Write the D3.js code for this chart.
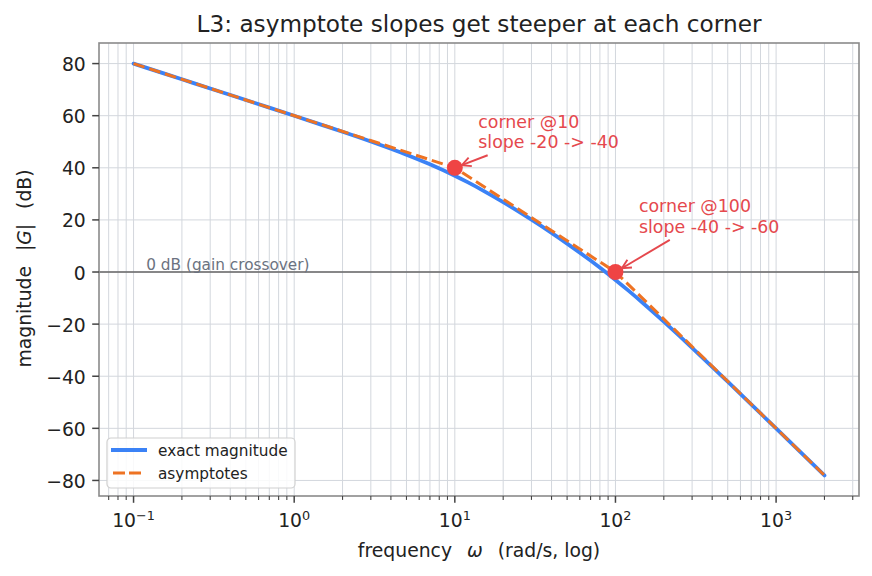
<!DOCTYPE html>
<html><head><meta charset="utf-8">
<script src="https://cdn.jsdelivr.net/npm/d3@7"></script>
<style>body{margin:0;background:#fff}svg{display:block;font-family:"DejaVu Sans",sans-serif}svg text{white-space:pre}</style>
</head><body><svg id="c" width="872" height="576"></svg>
<script>
// Exact magnitude (rad/s, dB)
const exactW  = [0.1,0.2,0.3,0.5,0.7,1,1.5,2,3,4,5,7,10,12,15,20,25,30,40,50,70,100,120,150,200,250,300,400,500,700,1000,1500,2000];
const exactDb = [80.0,73.98,70.46,66.01,63.08,59.96,56.38,53.81,50.08,47.30,45.04,41.35,36.95,34.48,31.27,26.82,23.17,20.08,15.01,10.90,4.38,-3.05,-7.06,-12.18,-19.04,-24.53,-29.09,-36.38,-42.11,-50.79,-60.04,-70.58,-78.07];
// Asymptote vertices
const asymW  = [0.1,10,100,2000];
const asymDb = [80,40,0,-78.06];
// Corner markers and their notes
const cornerW  = [10,100];
const cornerDb = [40,0];
const cornerText = [["corner @10","slope -20 -> -40"],["corner @100","slope -40 -> -60"]];
const cornerTextW  = [14,140];
const cornerTextDb = [47.5,15];
const crossoverLabel = "0 dB (gain crossover)";
const crossoverW = 0.12;
const yTicks = [-80,-60,-40,-20,0,20,40,60,80];
const xMajor = [0.1,1,10,100,1000];
const xExp = ["\u22121","0","1","2","3"];

const svg = d3.select("#c");
const L=99,R=859,T=43,B=496;
const x = d3.scaleLog().domain([Math.pow(10,-1.2151),Math.pow(10,3.5161)]).range([L,R]);
const y = d3.scaleLinear().domain([-85.97,87.90]).range([B,T]);

const grid = "#d3d7dd";
const xMinor=[];
for(let e=-2;e<=3;e++) for(let m=2;m<=9;m++){const v=m*Math.pow(10,e); if(v>=x.domain()[0]&&v<=x.domain()[1]) xMinor.push(v);}
svg.append("g").selectAll("line").data(xMinor.concat(xMajor)).join("line")
  .attr("x1",d=>x(d)).attr("x2",d=>x(d)).attr("y1",T).attr("y2",B)
  .attr("stroke",grid).attr("stroke-width",1);
svg.append("g").selectAll("line").data(yTicks).join("line")
  .attr("x1",L).attr("x2",R).attr("y1",d=>y(d)).attr("y2",d=>y(d))
  .attr("stroke",grid).attr("stroke-width",1);

// 0 dB line
svg.append("line").attr("x1",L).attr("x2",R).attr("y1",y(0)).attr("y2",y(0))
  .attr("stroke","#666").attr("stroke-width",1.5);
svg.append("text").attr("x",x(crossoverW)).attr("y",y(0)-2).attr("font-size",15.3)
  .attr("fill","#6b7280").text(crossoverLabel);

const blue="#3b82f6", orange="#ee7323";
svg.append("path").datum(exactW.map((w,i)=>[w,exactDb[i]]))
  .attr("d",d3.line().x(d=>x(d[0])).y(d=>y(d[1])).curve(d3.curveMonotoneX)).attr("fill","none")
  .attr("stroke",blue).attr("stroke-width",3.8).attr("stroke-linecap","round");
svg.append("path").datum(asymW.map((w,i)=>[w,asymDb[i]]))
  .attr("d",d3.line().x(d=>x(d[0])).y(d=>y(d[1]))).attr("fill","none")
  .attr("stroke",orange).attr("stroke-width",3).attr("stroke-dasharray","11.5,5");

// markers
svg.append("g").selectAll("circle").data(cornerW).join("circle")
  .attr("cx",d=>x(d)).attr("cy",(d,i)=>y(cornerDb[i])).attr("r",8).attr("fill","#ef4444");

// annotations
const red="#e5484d";
cornerW.forEach((w,i)=>{
  const tx=x(cornerTextW[i]), ty=y(cornerTextDb[i]);
  const t=svg.append("text").attr("x",tx).attr("y",ty-20.5).attr("font-size",17.4).attr("fill",red);
  t.append("tspan").attr("x",tx).text(cornerText[i][0]);
  t.append("tspan").attr("x",tx).attr("dy",20.5).text(cornerText[i][1]);
  const bb=t.node().getBBox();
  const cx=bb.x+bb.width/2, cy=bb.y+bb.height/2;
  const px=x(w), py=y(cornerDb[i]);
  const dx=px-cx, dy=py-cy;
  const hw=bb.width/2+3, hh=bb.height/2+3;
  const tt=Math.min(Math.abs(hw/dx),Math.abs(hh/dy));
  const sx=cx+dx*tt, sy=cy+dy*tt;
  const len=Math.hypot(px-sx,py-sy), ux=(px-sx)/len, uy=(py-sy)/len;
  const ex=px-ux*7.5, ey=py-uy*7.5;
  svg.append("line").attr("x1",sx).attr("y1",sy).attr("x2",ex).attr("y2",ey)
    .attr("stroke",red).attr("stroke-width",1.9);
  const hl=9, hw2=4.5;
  const bx=ex-ux*hl, by=ey-uy*hl;
  svg.append("path").attr("d",`M${bx-uy*hw2},${by+ux*hw2}L${ex},${ey}L${bx+uy*hw2},${by-ux*hw2}`)
    .attr("fill","none").attr("stroke",red).attr("stroke-width",1.9);
});

// frame
svg.append("rect").attr("x",L).attr("y",T).attr("width",R-L).attr("height",B-T)
  .attr("fill","none").attr("stroke","#8a8a8a").attr("stroke-width",1.6);

// ticks
const tc="#444";
svg.append("g").selectAll("line").data(xMinor).join("line")
  .attr("x1",d=>x(d)).attr("x2",d=>x(d)).attr("y1",B).attr("y2",B+3.9).attr("stroke",tc).attr("stroke-width",1.1);
svg.append("g").selectAll("line").data(xMajor).join("line")
  .attr("x1",d=>x(d)).attr("x2",d=>x(d)).attr("y1",B).attr("y2",B+6.8).attr("stroke",tc).attr("stroke-width",1.5);
svg.append("g").selectAll("line").data(yTicks).join("line")
  .attr("x1",L-6.8).attr("x2",L).attr("y1",d=>y(d)).attr("y2",d=>y(d)).attr("stroke",tc).attr("stroke-width",1.5);
svg.append("g").selectAll("text").data(yTicks).join("text")
  .attr("x",L-13.2).attr("y",d=>y(d)+7.5).attr("text-anchor","end").attr("font-size",18.8).attr("fill","#222")
  .text(d=>d<0?"\u2212"+Math.abs(d):d);
const xl=svg.append("g").selectAll("text").data(xMajor).join("text")
  .attr("x",d=>x(d)).attr("y",527).attr("text-anchor","middle").attr("font-size",18.8).attr("fill","#222");
xl.append("tspan").text("10");
xl.append("tspan").attr("dy",-7.5).attr("font-size",12.8).text((d,i)=>xExp[i]);

// labels
svg.append("text").attr("x",(L+R)/2).attr("y",32).attr("text-anchor","middle").attr("font-size",23.2).attr("fill","#222")
  .text("L3: asymptote slopes get steeper at each corner");
const xlab=svg.append("text").attr("x",(L+R)/2).attr("y",557).attr("text-anchor","middle").attr("font-size",18.8).attr("fill","#222");
xlab.append("tspan").text("frequency  ");
xlab.append("tspan").attr("dx",3).attr("font-style","italic").text("\u03c9");
xlab.append("tspan").attr("dx",3).text("  (rad/s, log)");
const ylab=svg.append("text").attr("transform","translate(31,"+((T+B)/2-1)+") rotate(-90)").attr("text-anchor","middle").attr("font-size",18.8).attr("fill","#222");
ylab.append("tspan").text("magnitude  ");
ylab.append("tspan").attr("dx",3).text("|");
ylab.append("tspan").attr("font-style","italic").text("G");
ylab.append("tspan").text("|");
ylab.append("tspan").attr("dx",3).text("  (dB)");

// legend
const lg=svg.append("g").attr("transform","translate(107,438)");
lg.append("rect").attr("width",188).attr("height",50).attr("rx",4).attr("fill","#fff").attr("fill-opacity",0.85).attr("stroke","#d0d0d0").attr("stroke-width",1.2);
lg.append("line").attr("x1",4).attr("x2",40).attr("y1",12).attr("y2",12).attr("stroke",blue).attr("stroke-width",3.8);
lg.append("line").attr("x1",6).attr("x2",34).attr("y1",35).attr("y2",35).attr("stroke",orange).attr("stroke-width",3).attr("stroke-dasharray","12,4");
lg.append("text").attr("x",51).attr("y",17.6).attr("font-size",15.3).attr("fill","#222").text("exact magnitude");
lg.append("text").attr("x",51).attr("y",40.6).attr("font-size",15.3).attr("fill","#222").text("asymptotes");
</script></body></html>
